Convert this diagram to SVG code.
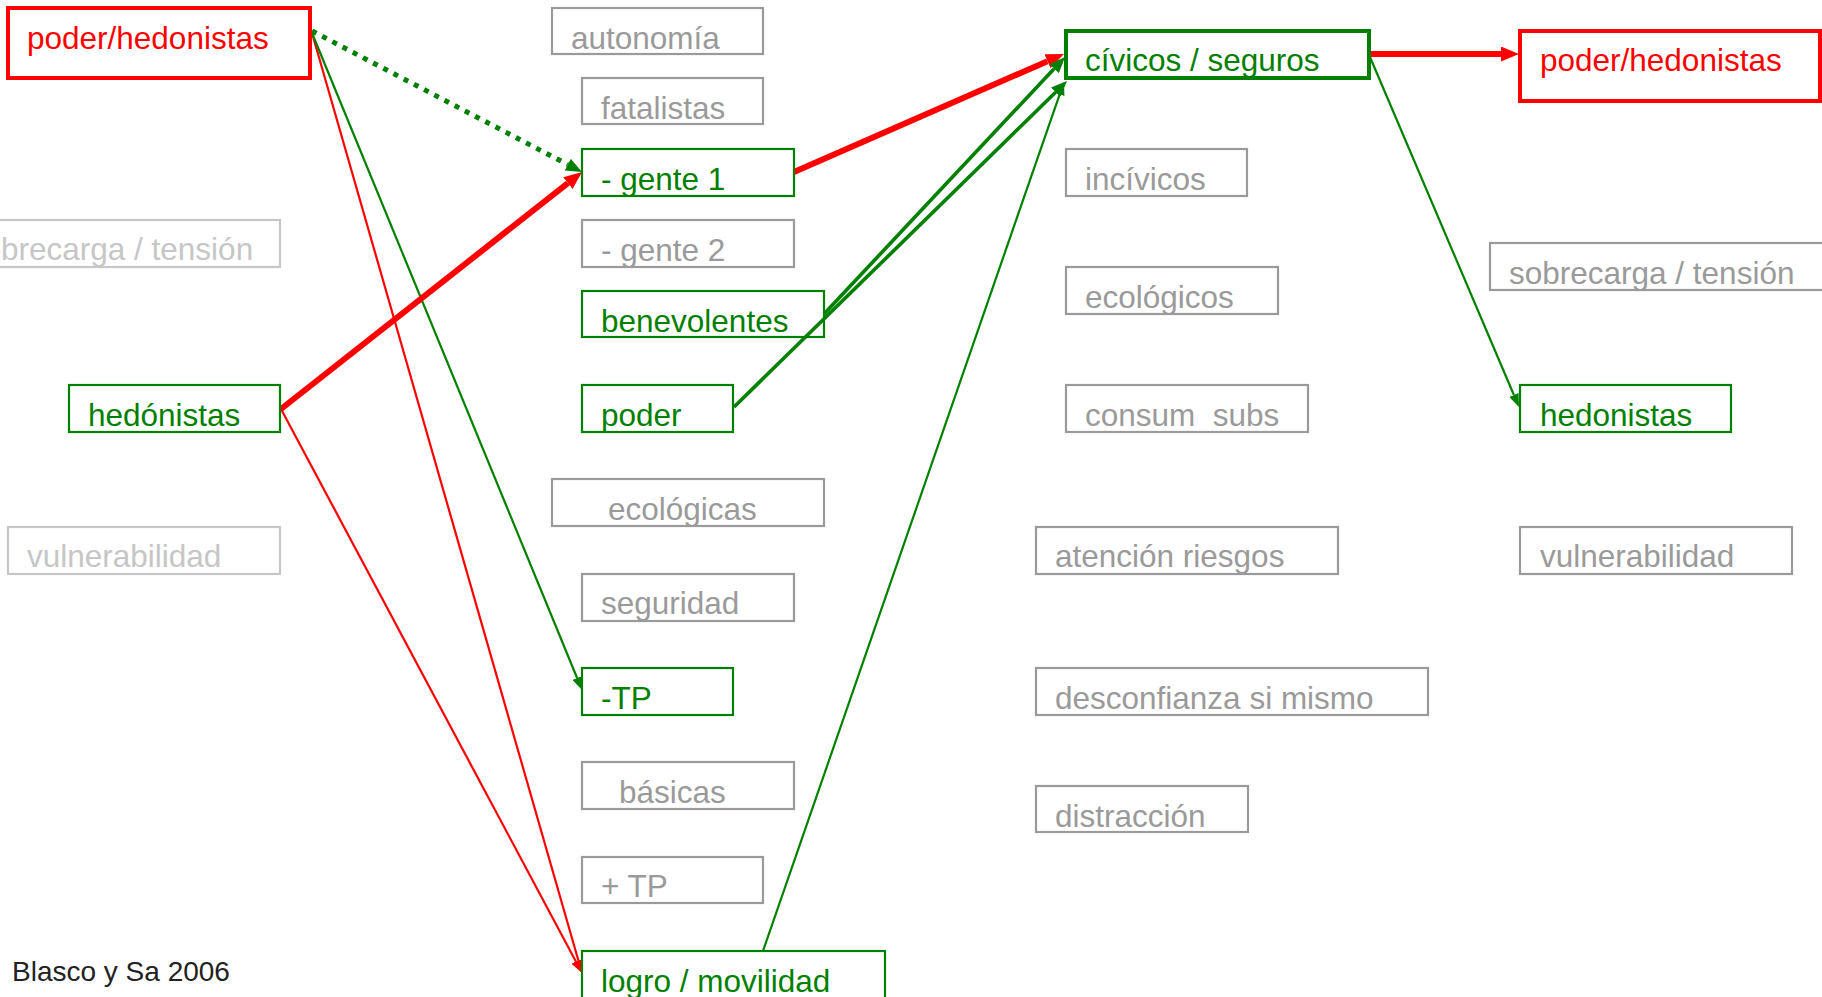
<svg xmlns="http://www.w3.org/2000/svg" width="1822" height="997" viewBox="0 0 1822 997">
<style>
text{font-family:"Liberation Sans",Arial,sans-serif;font-size:31.5px}
.b{fill:none}
.g rect{stroke:#008000;stroke-width:2.2}
.g text{fill:#008000}
.gt rect{stroke:#008000;stroke-width:4}
.gt text{fill:#008000}
.r rect{stroke:#ff0000;stroke-width:4}
.r text{fill:#ff0000}
.y rect{stroke:#9a9a9a;stroke-width:2.2}
.y text{fill:#9a9a9a}
.l rect{stroke:#c6c6c6;stroke-width:2.2}
.l text{fill:#c6c6c6}
rect{fill:none}
.cr{stroke:#ff0000;fill:none}
.cg{stroke:#008000;fill:none}
</style>
<defs>
<marker id="ar" markerUnits="userSpaceOnUse" markerWidth="18" markerHeight="15" refX="0" refY="7.5" orient="auto"><path d="M0,0 L18,7.5 L0,15 z" fill="#ff0000"/></marker>
<marker id="ars" markerUnits="userSpaceOnUse" markerWidth="13" markerHeight="10" refX="0" refY="5" orient="auto"><path d="M0,0 L13,5 L0,10 z" fill="#ff0000"/></marker>
<marker id="ag" markerUnits="userSpaceOnUse" markerWidth="16" markerHeight="13" refX="0" refY="6.5" orient="auto"><path d="M0,0 L16,6.5 L0,13 z" fill="#008000"/></marker>
<marker id="ags" markerUnits="userSpaceOnUse" markerWidth="13" markerHeight="10" refX="0" refY="5" orient="auto"><path d="M0,0 L13,5 L0,10 z" fill="#008000"/></marker>
</defs>

<g id="connectors">
<line class="cg" x1="312" y1="31" x2="567.8" y2="164.6" stroke-width="5" stroke-dasharray="5 6.5" marker-end="url(#ag)"/>
<line class="cr" x1="312" y1="33" x2="578.4" y2="960.5" stroke-width="2.2" marker-end="url(#ars)"/>
<line class="cg" x1="312" y1="33" x2="577.1" y2="678" stroke-width="2.2" marker-end="url(#ags)"/>
<line class="cr" x1="281" y1="409" x2="567.9" y2="183.1" stroke-width="6" marker-end="url(#ar)"/>
<line class="cr" x1="281" y1="409" x2="575.9" y2="961.5" stroke-width="2.2" marker-end="url(#ars)"/>
<line class="cr" x1="794" y1="172" x2="1047.5" y2="61.2" stroke-width="6" marker-end="url(#ar)"/>
<line class="cg" x1="824" y1="314" x2="1054.1" y2="68.7" stroke-width="3.6" marker-end="url(#ag)"/>
<line class="cg" x1="734" y1="407" x2="1055.6" y2="92.2" stroke-width="3.6" marker-end="url(#ag)"/>
<line class="cg" x1="763" y1="951" x2="1059.7" y2="94.3" stroke-width="2.2" marker-end="url(#ags)"/>
<line class="cr" x1="1370" y1="54" x2="1501" y2="54" stroke-width="6" marker-end="url(#ar)"/>
<line class="cg" x1="1370" y1="57" x2="1513.9" y2="395" stroke-width="2.2" marker-end="url(#ags)"/>
</g>

<g id="n-poder-hed-l" class="r"><rect x="8" y="8" width="302" height="70"/><text x="27" y="49">poder/hedonistas</text></g>
<g id="n-sobrecarga-l" class="l"><rect x="-10" y="220" width="290" height="47"/><text x="1" y="260">brecarga / tensión</text></g>
<g id="n-hedonistas-l" class="g"><rect x="69" y="385" width="211" height="47"/><text x="88" y="426">hedónistas</text></g>
<g id="n-vulnerabilidad-l" class="l"><rect x="8" y="527" width="272" height="47"/><text x="27" y="567">vulnerabilidad</text></g>

<g id="n-autonomia" class="y"><rect x="552" y="8" width="211" height="46"/><text x="571" y="49">autonomía</text></g>
<g id="n-fatalistas" class="y"><rect x="582" y="78" width="181" height="46"/><text x="601" y="119">fatalistas</text></g>
<g id="n-gente1" class="g"><rect x="582" y="149" width="212" height="47"/><text x="601" y="190">- gente 1</text></g>
<g id="n-gente2" class="y"><rect x="582" y="220" width="212" height="47"/><text x="601" y="261">- gente 2</text></g>
<g id="n-benevolentes" class="g"><rect x="582" y="291" width="242" height="46"/><text x="601" y="332">benevolentes</text></g>
<g id="n-poder" class="g"><rect x="582" y="385" width="151" height="47"/><text x="601" y="426">poder</text></g>
<g id="n-ecologicas" class="y"><rect x="552" y="479" width="272" height="47"/><text x="608" y="520">ecológicas</text></g>
<g id="n-seguridad" class="y"><rect x="582" y="574" width="212" height="47"/><text x="601" y="614">seguridad</text></g>
<g id="n-mtp" class="g"><rect x="582" y="668" width="151" height="47"/><text x="601" y="709">-TP</text></g>
<g id="n-basicas" class="y"><rect x="582" y="762" width="212" height="47"/><text x="619" y="803">básicas</text></g>
<g id="n-ptp" class="y"><rect x="582" y="857" width="181" height="46"/><text x="601" y="897">+ TP</text></g>
<g id="n-logro" class="g"><rect x="582" y="951" width="303" height="60"/><text x="601" y="992">logro / movilidad</text></g>

<g id="n-civicos" class="gt"><rect x="1066" y="31" width="303" height="47"/><text x="1085" y="71">cívicos / seguros</text></g>
<g id="n-incivicos" class="y"><rect x="1066" y="149" width="181" height="47"/><text x="1085" y="190">incívicos</text></g>
<g id="n-ecologicos" class="y"><rect x="1066" y="267" width="212" height="47"/><text x="1085" y="308">ecológicos</text></g>
<g id="n-consum" class="y"><rect x="1066" y="385" width="242" height="47"/><text x="1085" y="426" xml:space="preserve">consum  subs</text></g>
<g id="n-atencion" class="y"><rect x="1036" y="527" width="302" height="47"/><text x="1055" y="567">atención riesgos</text></g>
<g id="n-desconfianza" class="y"><rect x="1036" y="668" width="392" height="47"/><text x="1055" y="709">desconfianza si mismo</text></g>
<g id="n-distraccion" class="y"><rect x="1036" y="786" width="212" height="46"/><text x="1055" y="827">distracción</text></g>

<g id="n-poder-hed-r" class="r"><rect x="1520" y="31" width="300" height="70"/><text x="1540" y="71">poder/hedonistas</text></g>
<g id="n-sobrecarga-r" class="y"><rect x="1490" y="243" width="340" height="47"/><text x="1509" y="284">sobrecarga / tensión</text></g>
<g id="n-hedonistas-r" class="g"><rect x="1520" y="385" width="211" height="47"/><text x="1540" y="426">hedonistas</text></g>
<g id="n-vulnerabilidad-r" class="y"><rect x="1520" y="527" width="272" height="47"/><text x="1540" y="567">vulnerabilidad</text></g>

<text id="credit" x="12" y="981" style="font-size:28px;fill:#222">Blasco y Sa 2006</text>
</svg>
